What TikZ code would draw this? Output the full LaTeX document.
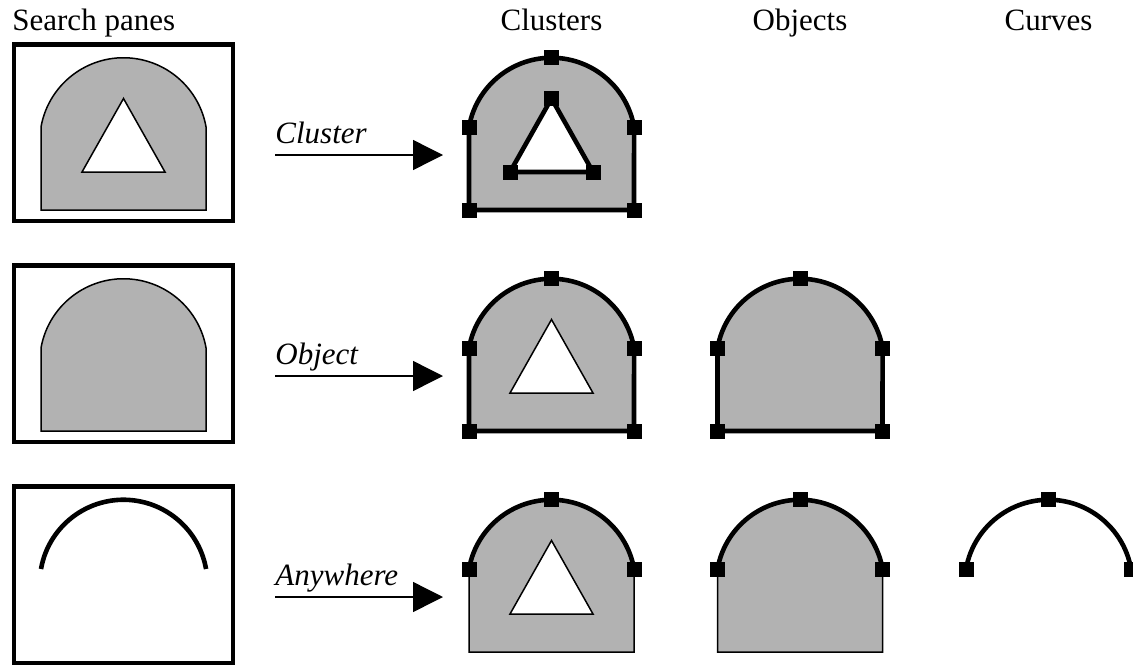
\documentclass[tikz,border=0pt]{standalone}
\usepackage{fontspec}
\setmainfont{Liberation Serif}
\usepackage{tikz}
\usetikzlibrary{arrows.meta,positioning}
\definecolor{archgrey}{gray}{0.70}

\begin{document}
\begin{tikzpicture}[x=0.5pt,y=0.5pt,line join=miter,
  pane/.style={draw=black,line width=2.1pt},
  thinline/.style={line width=0.75pt},
  boldline/.style={line width=2.3pt},
  head/.style={font=\fontsize{15.5}{18}\selectfont,inner sep=0pt,anchor=base},
  mode/.style={font=\fontsize{15.5}{18}\selectfont\itshape,inner sep=0pt,anchor=base west},
  pick/.style={-{Triangle[length=15pt,width=15pt]},line width=0.7pt}]
\path[use as bounding box] (0,0) rectangle (1133,666);
% column titles
\node[head,anchor=base west] (hpanes) at (12,636) {Search panes};
\node[head] (hclusters) at (551.5,636) {Clusters};
\node[head] (hobjects) at (800,636) {Objects};
\node[head] (hcurves) at (1048.5,636) {Curves};
% search panes
\foreach \cy in {539,318,97}
  \draw[pane] (14,\cy+82.5) rectangle (233,\cy-94);
% grey arches
\foreach \cx/\cy in {123.5/539,123.5/318,551.5/539,551.5/318,551.5/97,800/318,800/97}
  \draw[thinline,fill=archgrey,shift={(\cx,\cy)}] (-82.5,-83) -- (-82.5,0)
    arc[start angle=170,end angle=10,radius=83.8] -- (82.5,-83) -- cycle;
% holes
\foreach \cx/\cy in {123.5/539,551.5/318,551.5/97}
  \draw[thinline,fill=white,shift={(\cx,\cy)}] (0,28.5) -- (-41.5,-45) -- (41.5,-45) -- cycle;
\draw[boldline,fill=white,shift={(551.5,539)}] (0,28.5) -- (-41.5,-45) -- (41.5,-45) -- cycle;
% selected outlines
\foreach \cx/\cy in {551.5/539,551.5/318,800/318}
  \draw[boldline,shift={(\cx,\cy)}] (-82.5,-83) -- (-82.5,0)
    arc[start angle=170,end angle=10,radius=83.8] -- (82.5,-83) -- cycle;
\foreach \cx/\cy in {123.5/97,551.5/97,800/97,1048.5/97}
  \draw[boldline,shift={(\cx,\cy)}] (-82.5,0) arc[start angle=170,end angle=10,radius=83.8];
% handles
\foreach \cx/\cy in {551.5/539,551.5/318,551.5/97,800/318,800/97,1048.5/97}
  \foreach \dx/\dy in {0/69.25,-82.5/0,82.5/0}
    \fill (\cx+\dx-7.5,\cy+\dy-7.5) rectangle ++(15,15);
\foreach \cx/\cy in {551.5/539,551.5/318,800/318}
  \foreach \dx in {-82.5,82.5}
    \fill (\cx+\dx-7.5,\cy-90.5) rectangle ++(15,15);
\foreach \dx/\dy in {0/28.5,-41.5/-45,41.5/-45}
  \fill (551.5+\dx-7.5,539+\dy-7.5) rectangle ++(15,15);
% search modes
\coordinate (from1) at (275,511);
\coordinate (to1) at (443,511);
\coordinate (from2) at (275,290);
\coordinate (to2) at (443,290);
\coordinate (from3) at (275,69);
\coordinate (to3) at (443,69);
\draw[pick] (from1) -- (to1);
\draw[pick] (from2) -- (to2);
\draw[pick] (from3) -- (to3);
\node[mode] (mcluster) at ([yshift=6pt]from1) {Cluster};
\node[mode] (mobject) at ([yshift=6pt]from2) {Object};
\node[mode] (manywhere) at ([yshift=6pt]from3) {Anywhere};
\end{tikzpicture}
\end{document}
